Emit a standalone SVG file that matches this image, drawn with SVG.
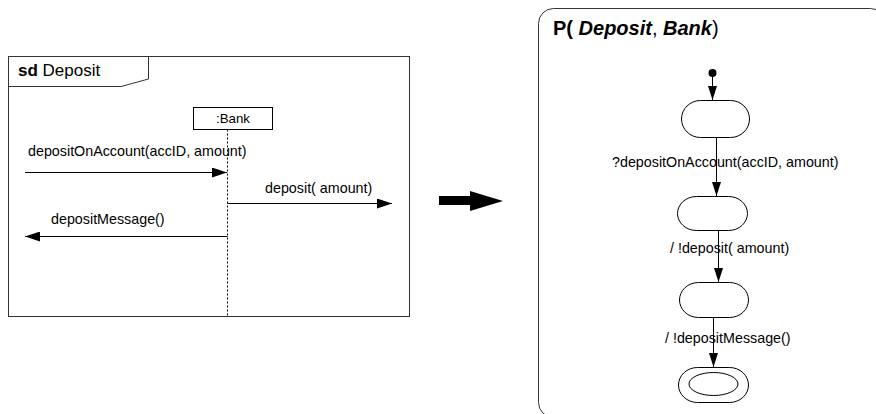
<svg xmlns="http://www.w3.org/2000/svg" width="876" height="414" viewBox="0 0 876 414">
<style>
text{font-family:"Liberation Sans",Arial,sans-serif;fill:#000}
.lbl{font-size:14.3px}
.frame{fill:none;stroke:#333;stroke-width:1}
.ln{fill:none;stroke:#000;stroke-width:1}
.st{fill:#fff;stroke:#000;stroke-width:1}
</style>
<defs>
<marker id="msg" viewBox="0 0 15 10" refX="15" refY="5" markerWidth="15" markerHeight="10" markerUnits="userSpaceOnUse" orient="auto"><path d="M0,0 L15,5 L0,10 Z" fill="#000"/></marker>
<marker id="tr" viewBox="0 0 14 9" refX="14" refY="4.5" markerWidth="14" markerHeight="9" markerUnits="userSpaceOnUse" orient="auto"><path d="M0,0 L14,4.5 L0,9 Z" fill="#000"/></marker>
</defs>

<g id="sd-frame">
<rect class="frame" x="8.5" y="56.5" width="401" height="260"/>
<path class="frame" d="M8.5,86.5 H121 L148.5,79 V56.5"/>
<text x="18" y="76" font-size="17"><tspan font-weight="bold">sd</tspan> Deposit</text>
</g>

<g id="bank">
<rect class="st" x="193.5" y="107.5" width="79" height="22"/>
<text x="233" y="123" font-size="13.3" text-anchor="middle">:Bank</text>
</g>

<g id="lifeline">
<line x1="227.5" y1="129.5" x2="227.5" y2="316" stroke="#000" stroke-width="1" stroke-dasharray="2,2"/>
</g>

<g id="messages">
<line class="ln" x1="25" y1="172.5" x2="227" y2="172.5" marker-end="url(#msg)"/>
<text class="lbl" x="28" y="156">depositOnAccount(accID, amount)</text>
<line class="ln" x1="227.5" y1="203.5" x2="392" y2="203.5" marker-end="url(#msg)"/>
<text class="lbl" x="265" y="193">deposit( amount)</text>
<line class="ln" x1="227.5" y1="236.5" x2="25" y2="236.5" marker-end="url(#msg)"/>
<text class="lbl" x="51" y="224">depositMessage()</text>
</g>

<g id="big-arrow">
<polygon points="439,196 470,196 470,191 503,201 470,211 470,205 439,205" fill="#000"/>
</g>

<g id="p-frame">
<rect class="frame" x="538.5" y="8.5" width="347" height="409" rx="15" ry="15"/>
<text x="553" y="35" font-size="20" font-weight="bold">P( <tspan font-style="italic">Deposit</tspan><tspan font-weight="normal">,</tspan> <tspan font-style="italic">Bank</tspan><tspan font-weight="normal">)</tspan></text>
</g>

<g id="initial">
<circle cx="712.5" cy="73" r="4" fill="#000"/>
</g>
<g id="state1"><rect class="st" x="681.5" y="100.5" width="68" height="37" rx="19" ry="18.5"/></g>
<g id="state2"><rect class="st" x="677.5" y="196.5" width="70" height="34" rx="19" ry="17"/></g>
<g id="state3"><rect class="st" x="679.5" y="282.5" width="69" height="35" rx="19" ry="17.5"/></g>
<g id="final">
<rect class="st" x="678.5" y="367.5" width="70" height="35" rx="19" ry="17.5"/>
<ellipse class="st" cx="713.5" cy="384" rx="24.5" ry="11.5"/>
</g>

<g id="transitions">
<line class="ln" x1="712.5" y1="76" x2="712.5" y2="100" marker-end="url(#tr)"/>
<line class="ln" x1="716.5" y1="137.5" x2="716.5" y2="196" marker-end="url(#tr)"/>
<text class="lbl" x="612" y="167">?depositOnAccount(accID, amount)</text>
<line class="ln" x1="718.5" y1="230.5" x2="718.5" y2="282" marker-end="url(#tr)"/>
<text class="lbl" x="670" y="253">/ !deposit( amount)</text>
<line class="ln" x1="713.5" y1="317.5" x2="713.5" y2="367" marker-end="url(#tr)"/>
<text class="lbl" x="665" y="343">/ !depositMessage()</text>
</g>
</svg>
